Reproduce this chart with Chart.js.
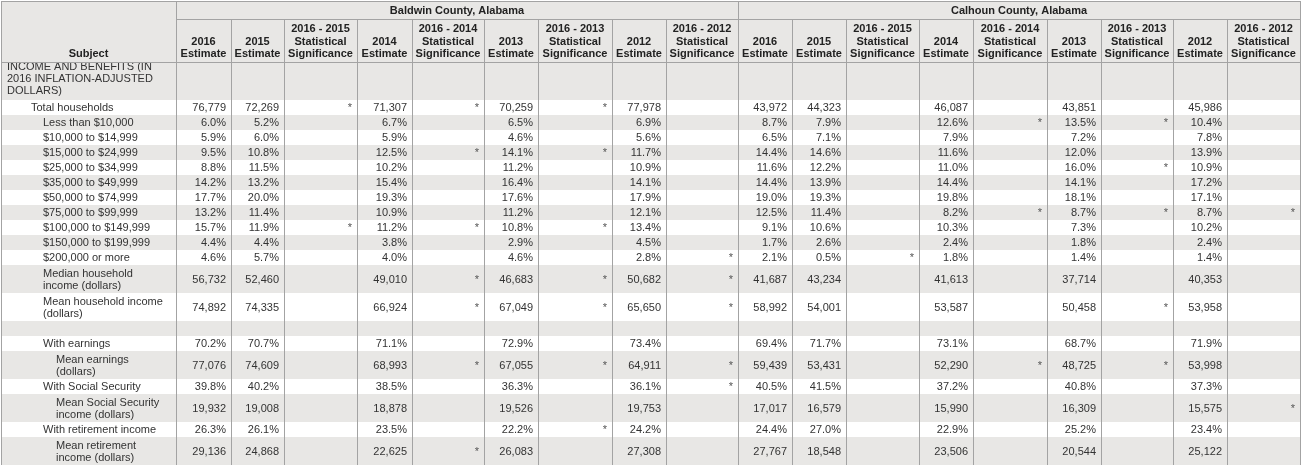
<!DOCTYPE html>
<html>
<head>
<meta charset="utf-8">
<script src="https://cdn.jsdelivr.net/npm/chart.js@4"></script>
<style>
  html, body { margin: 0; padding: 0; background: #fff; }
</style>
</head>
<body>
<canvas id="incomeTable" width="1303" height="465"></canvas>
<script>
// table data
const counties = ["Baldwin County, Alabama", "Calhoun County, Alabama"];
const columnHeads = [
  "2016\nEstimate", "2015\nEstimate", "2016 - 2015\nStatistical\nSignificance",
  "2014\nEstimate", "2016 - 2014\nStatistical\nSignificance",
  "2013\nEstimate", "2016 - 2013\nStatistical\nSignificance",
  "2012\nEstimate", "2016 - 2012\nStatistical\nSignificance"
];
const subjects = [
  "INCOME AND BENEFITS (IN\n2016 INFLATION-ADJUSTED\nDOLLARS)",
  "Total households",
  "Less than $10,000",
  "$10,000 to $14,999",
  "$15,000 to $24,999",
  "$25,000 to $34,999",
  "$35,000 to $49,999",
  "$50,000 to $74,999",
  "$75,000 to $99,999",
  "$100,000 to $149,999",
  "$150,000 to $199,999",
  "$200,000 or more",
  "Median household\nincome (dollars)",
  "Mean household income\n(dollars)",
  "",
  "With earnings",
  "Mean earnings\n(dollars)",
  "With Social Security",
  "Mean Social Security\nincome (dollars)",
  "With retirement income",
  "Mean retirement\nincome (dollars)"
];

const baldwinEst2016 = ["", "76,779", "6.0%", "5.9%", "9.5%", "8.8%", "14.2%", "17.7%", "13.2%", "15.7%", "4.4%", "4.6%", "56,732", "74,892", "", "70.2%", "77,076", "39.8%", "19,932", "26.3%", "29,136"];
const baldwinEst2015 = ["", "72,269", "5.2%", "6.0%", "10.8%", "11.5%", "13.2%", "20.0%", "11.4%", "11.9%", "4.4%", "5.7%", "52,460", "74,335", "", "70.7%", "74,609", "40.2%", "19,008", "26.1%", "24,868"];
const baldwinSig2015 = ["", "*", "", "", "", "", "", "", "", "*", "", "", "", "", "", "", "", "", "", "", ""];
const baldwinEst2014 = ["", "71,307", "6.7%", "5.9%", "12.5%", "10.2%", "15.4%", "19.3%", "10.9%", "11.2%", "3.8%", "4.0%", "49,010", "66,924", "", "71.1%", "68,993", "38.5%", "18,878", "23.5%", "22,625"];
const baldwinSig2014 = ["", "*", "", "", "*", "", "", "", "", "*", "", "", "*", "*", "", "", "*", "", "", "", "*"];
const baldwinEst2013 = ["", "70,259", "6.5%", "4.6%", "14.1%", "11.2%", "16.4%", "17.6%", "11.2%", "10.8%", "2.9%", "4.6%", "46,683", "67,049", "", "72.9%", "67,055", "36.3%", "19,526", "22.2%", "26,083"];
const baldwinSig2013 = ["", "*", "", "", "*", "", "", "", "", "*", "", "", "*", "*", "", "", "*", "", "", "*", ""];
const baldwinEst2012 = ["", "77,978", "6.9%", "5.6%", "11.7%", "10.9%", "14.1%", "17.9%", "12.1%", "13.4%", "4.5%", "2.8%", "50,682", "65,650", "", "73.4%", "64,911", "36.1%", "19,753", "24.2%", "27,308"];
const baldwinSig2012 = ["", "", "", "", "", "", "", "", "", "", "", "*", "*", "*", "", "", "*", "*", "", "", ""];

const calhounEst2016 = ["", "43,972", "8.7%", "6.5%", "14.4%", "11.6%", "14.4%", "19.0%", "12.5%", "9.1%", "1.7%", "2.1%", "41,687", "58,992", "", "69.4%", "59,439", "40.5%", "17,017", "24.4%", "27,767"];
const calhounEst2015 = ["", "44,323", "7.9%", "7.1%", "14.6%", "12.2%", "13.9%", "19.3%", "11.4%", "10.6%", "2.6%", "0.5%", "43,234", "54,001", "", "71.7%", "53,431", "41.5%", "16,579", "27.0%", "18,548"];
const calhounSig2015 = ["", "", "", "", "", "", "", "", "", "", "", "*", "", "", "", "", "", "", "", "", ""];
const calhounEst2014 = ["", "46,087", "12.6%", "7.9%", "11.6%", "11.0%", "14.4%", "19.8%", "8.2%", "10.3%", "2.4%", "1.8%", "41,613", "53,587", "", "73.1%", "52,290", "37.2%", "15,990", "22.9%", "23,506"];
const calhounSig2014 = ["", "", "*", "", "", "", "", "", "*", "", "", "", "", "", "", "", "*", "", "", "", ""];
const calhounEst2013 = ["", "43,851", "13.5%", "7.2%", "12.0%", "16.0%", "14.1%", "18.1%", "8.7%", "7.3%", "1.8%", "1.4%", "37,714", "50,458", "", "68.7%", "48,725", "40.8%", "16,309", "25.2%", "20,544"];
const calhounSig2013 = ["", "", "*", "", "", "*", "", "", "*", "", "", "", "", "*", "", "", "*", "", "", "", ""];
const calhounEst2012 = ["", "45,986", "10.4%", "7.8%", "13.9%", "10.9%", "17.2%", "17.1%", "8.7%", "10.2%", "2.4%", "1.4%", "40,353", "53,958", "", "71.9%", "53,998", "37.3%", "15,575", "23.4%", "25,122"];
const calhounSig2012 = ["", "", "", "", "", "", "", "", "*", "", "", "", "", "", "", "", "", "", "*", "", ""];

const countyColumns = [
  [baldwinEst2016, baldwinEst2015, baldwinSig2015, baldwinEst2014, baldwinSig2014, baldwinEst2013, baldwinSig2013, baldwinEst2012, baldwinSig2012],
  [calhounEst2016, calhounEst2015, calhounSig2015, calhounEst2014, calhounSig2014, calhounEst2013, calhounSig2013, calhounEst2012, calhounSig2012]
];

// layout / style
const colWidths = [175, 55, 53, 73, 55, 72, 54, 74, 54, 72, 54, 54, 73, 54, 74, 54, 72, 54, 73];
const subjectIndent = [0, 1, 2, 2, 2, 2, 2, 2, 2, 2, 2, 2, 2, 2, 2, 2, 3, 2, 3, 2, 3];
const indentX = [7, 31, 43, 56];
const rowHeightByLines = [0, 15, 28, 43];
const tableLeft = 1, tableTop = 1, groupRowBottom = 19, headBottom = 62;
const scrollOffset = 5;
const lineGap = 12, headLineGap = 12.5;
const stripe = "#e8e7e5", border = "#a3a3a3", ink = "#333";
const font = "'Liberation Sans', Arial, sans-serif";

const tablePlugin = {
  id: "incomeTable",
  afterDraw(chart) {
    const ctx = chart.ctx;
    const sx = chart.scales.x, sy = chart.scales.y;
    const px = v => Math.round(sx.getPixelForValue(v));
    const py = v => Math.round(sy.getPixelForValue(v));

    const edges = [tableLeft];
    colWidths.forEach(w => edges.push(edges[edges.length - 1] + w));
    const right = edges[edges.length - 1];

    const rowTops = [headBottom - scrollOffset];
    subjects.forEach(s => {
      rowTops.push(rowTops[rowTops.length - 1] + rowHeightByLines[s.split("\n").length]);
    });

    ctx.save();
    ctx.fillStyle = "#fff";
    ctx.fillRect(0, 0, chart.width, chart.height);

    // body rows
    ctx.save();
    ctx.beginPath();
    ctx.rect(0, py(headBottom), chart.width, chart.height);
    ctx.clip();
    subjects.forEach((s, i) => {
      const top = py(rowTops[i]), bot = py(rowTops[i + 1]);
      if (i % 2 === 0) {
        ctx.fillStyle = stripe;
        ctx.fillRect(px(tableLeft), top, px(right) - px(tableLeft), bot - top);
      }
      const mid = (top + bot) / 2 + 0.5;
      ctx.fillStyle = ink;
      ctx.font = "11px " + font;
      ctx.textBaseline = "middle";
      ctx.textAlign = "left";
      const lines = s.split("\n");
      lines.forEach((ln, k) => {
        ctx.fillText(ln, px(indentX[subjectIndent[i]]), mid + (k - (lines.length - 1) / 2) * lineGap);
      });
      ctx.textAlign = "right";
      countyColumns.forEach((cols, g) => {
        cols.forEach((col, c) => {
          const txt = col[i];
          if (!txt) return;
          const e = edges[2 + g * 9 + c];
          ctx.fillStyle = txt === "*" ? "#555" : ink;
          ctx.fillText(txt, px(e) - 5, mid);
        });
      });
    });
    ctx.restore();

    // header
    ctx.fillStyle = stripe;
    ctx.fillRect(px(tableLeft), py(tableTop), px(right) - px(tableLeft), py(headBottom) - py(tableTop));
    ctx.fillStyle = "#222";
    ctx.font = "bold 11px " + font;
    ctx.textAlign = "center";
    ctx.textBaseline = "middle";
    ctx.fillText("Subject", (px(edges[0]) + px(edges[1])) / 2, py(headBottom) - 8);
    counties.forEach((name, g) => {
      const l = edges[1 + g * 9], r = edges[1 + (g + 1) * 9];
      ctx.fillText(name, (px(l) + px(r)) / 2, (py(tableTop) + py(groupRowBottom)) / 2 + 1);
      columnHeads.forEach((h, c) => {
        const cl = edges[1 + g * 9 + c], cr = edges[2 + g * 9 + c];
        const lines = h.split("\n");
        lines.forEach((ln, k) => {
          ctx.fillText(ln, (px(cl) + px(cr)) / 2, py(headBottom) - 8 - (lines.length - 1 - k) * headLineGap);
        });
      });
    });

    // grid lines
    ctx.strokeStyle = border;
    ctx.lineWidth = 1;
    const hline = (y, x0, x1) => { ctx.beginPath(); ctx.moveTo(px(x0), py(y) + 0.5); ctx.lineTo(px(x1) + 1, py(y) + 0.5); ctx.stroke(); };
    const vline = (x, y0, y1) => { ctx.beginPath(); ctx.moveTo(px(x) + 0.5, py(y0)); ctx.lineTo(px(x) + 0.5, py(y1)); ctx.stroke(); };
    hline(tableTop, tableLeft, right);
    hline(groupRowBottom, edges[1], right);
    hline(headBottom, tableLeft, right);
    edges.forEach((e, k) => {
      const full = k === 0 || k === 1 || k === 10 || k === edges.length - 1;
      vline(e, full ? tableTop : groupRowBottom, 465);
    });
    ctx.restore();
  }
};

new Chart(document.getElementById("incomeTable"), {
  type: "scatter",
  data: { datasets: [{ data: [] }] },
  options: {
    responsive: false,
    animation: false,
    events: [],
    layout: { padding: 0 },
    plugins: { legend: { display: false }, tooltip: { enabled: false } },
    scales: {
      x: { type: "linear", display: false, min: 0, max: 1303 },
      y: { type: "linear", display: false, min: 0, max: 465, reverse: true }
    }
  },
  plugins: [tablePlugin]
});
</script>
</body>
</html>
